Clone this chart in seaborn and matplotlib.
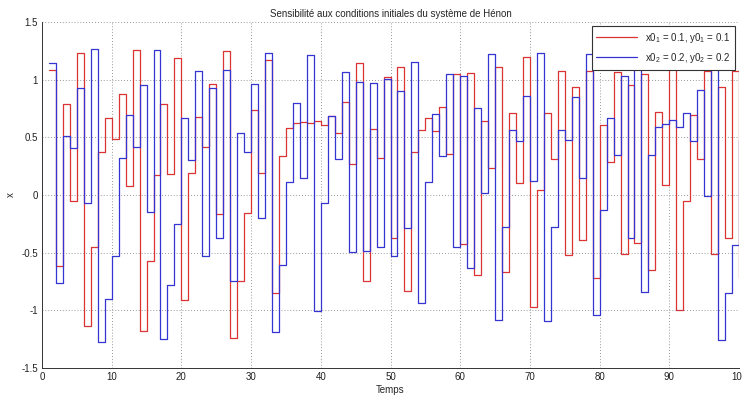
import numpy as np
import pandas as pd
import matplotlib
matplotlib.use("Agg")
import matplotlib.pyplot as plt
import seaborn as sns

# Iterations of the Hénon map for two nearby starting points
temps = list(range(1, 101))

x_serie1 = [
    1.086, -0.621, 0.786, -0.051, 1.232, -1.140, -0.451, 0.373, 0.668, 0.485,
    0.874, 0.074, 1.255, -1.178, -0.574, 0.176, 0.786, 0.183, 1.189, -0.912,
    0.194, 0.678, 0.418, 0.959, -0.166, 1.252, -1.238, -0.745, -0.160, 0.736,
    0.194, 1.172, -0.850, 0.340, 0.584, 0.624, 0.630, 0.626, 0.643, 0.610,
    0.686, 0.540, 0.804, 0.265, 1.144, -0.745, 0.576, 0.321, 1.027, -0.376,
    1.112, -0.834, 0.369, 0.561, 0.668, 0.556, 0.764, 0.355, 1.047, -0.426,
    1.059, -0.694, 0.640, 0.230, 1.114, -0.668, 0.708, 0.106, 1.197, -0.970,
    0.044, 0.708, 0.315, 1.075, -0.520, 0.941, -0.388, 1.075, -0.718, 0.606,
    0.284, 1.068, -0.516, 0.955, -0.414, 1.050, -0.654, 0.720, 0.087, 1.204,
    -1.001, -0.049, 0.696, 0.312, 1.073, -0.515, 0.940, -0.378, 1.078, -0.722,
]

x_serie2 = [
    1.144, -0.768, 0.510, 0.405, 0.927, -0.070, 1.271, -1.275, -0.904, -0.534,
    0.322, 0.696, 0.420, 0.955, -0.151, 1.255, -1.248, -0.785, -0.250, 0.670,
    0.301, 1.073, -0.530, 0.931, -0.374, 1.085, -0.750, 0.540, 0.372, 0.967,
    -0.196, 1.236, -1.188, -0.612, 0.113, 0.797, 0.144, 1.212, -1.010, -0.068,
    0.689, 0.314, 1.066, -0.496, 0.977, -0.488, 0.970, -0.455, 1.002, -0.528,
    0.906, -0.290, 1.153, -0.938, 0.110, 0.705, 0.337, 1.052, -0.450, 1.033,
    -0.630, 0.754, 0.018, 1.223, -1.084, -0.277, 0.564, 0.471, 0.860, 0.125,
    1.235, -1.090, -0.277, 0.565, 0.475, 0.849, 0.145, 1.224, -1.042, -0.135,
    0.664, 0.345, 1.028, -0.375, 1.115, -0.842, 0.345, 0.590, 0.616, 0.647,
    0.590, 0.708, 0.470, 0.907, -0.005, 1.270, -1.262, -0.855, -0.432, 0.478,
]

labels = [r"x0$_1$ = 0.1, y0$_1$ = 0.1", r"x0$_2$ = 0.2, y0$_2$ = 0.2"]
couleurs = ["#dc3434", "#3434d2"]

x_ticks = list(range(0, 101, 10))
y_ticks = [-1.5, -1, -0.5, 0, 0.5, 1, 1.5]
y_ticklabels = ["-1.5", "-1", "-0.5", "0", "0.5", "1", "1.5"]

df = pd.DataFrame({
    "Temps": temps * 2,
    "x": x_serie1 + x_serie2,
    "serie": [labels[0]] * len(temps) + [labels[1]] * len(temps),
})

sns.set_style("white")
plt.rcParams["font.family"] = ["Liberation Sans", "DejaVu Sans"]
plt.rcParams["mathtext.fontset"] = "custom"
plt.rcParams["mathtext.rm"] = "Liberation Sans"
plt.rcParams["mathtext.it"] = "Liberation Sans"

fig = plt.figure(figsize=(7.42, 3.95), dpi=100)
ax = fig.add_axes([0.0566, 0.069, 0.9394, 0.875])

sns.lineplot(
    data=df, x="Temps", y="x", hue="serie", hue_order=labels,
    palette=couleurs, drawstyle="steps-post", linewidth=0.9,
    estimator=None, sort=False, ax=ax,
)

ax.set_xlim(0, 100)
ax.set_ylim(-1.5, 1.5)
ax.set_xticks(x_ticks)
ax.set_xticklabels([str(v) for v in x_ticks], fontsize=7)
ax.set_yticks(y_ticks)
ax.set_yticklabels(y_ticklabels, fontsize=7)
ax.tick_params(direction="in", length=3, width=0.6, colors="#222222", pad=3)

ax.grid(True, linestyle=(0, (1, 2.5)), color="#777777", linewidth=0.6)
for side in ["top", "right"]:
    ax.spines[side].set_visible(False)
for side in ["left", "bottom"]:
    ax.spines[side].set_color("#333333")
    ax.spines[side].set_linewidth(0.7)

ax.set_title("Sensibilité aux conditions initiales du système de Hénon", fontsize=7, pad=4)
ax.set_xlabel("Temps", fontsize=7, labelpad=2)
ax.set_ylabel("x", fontsize=7)
ax.yaxis.set_label_coords(-0.038, 0.5)

leg = ax.legend(loc="upper right", fontsize=7, frameon=True, fancybox=False,
                framealpha=1, edgecolor="#333333", handlelength=4.2,
                borderpad=0.5, labelspacing=0.6, borderaxespad=0.4)
leg.get_frame().set_linewidth(0.8)
leg.set_title(None)

fig.savefig("out.png", dpi=100)
